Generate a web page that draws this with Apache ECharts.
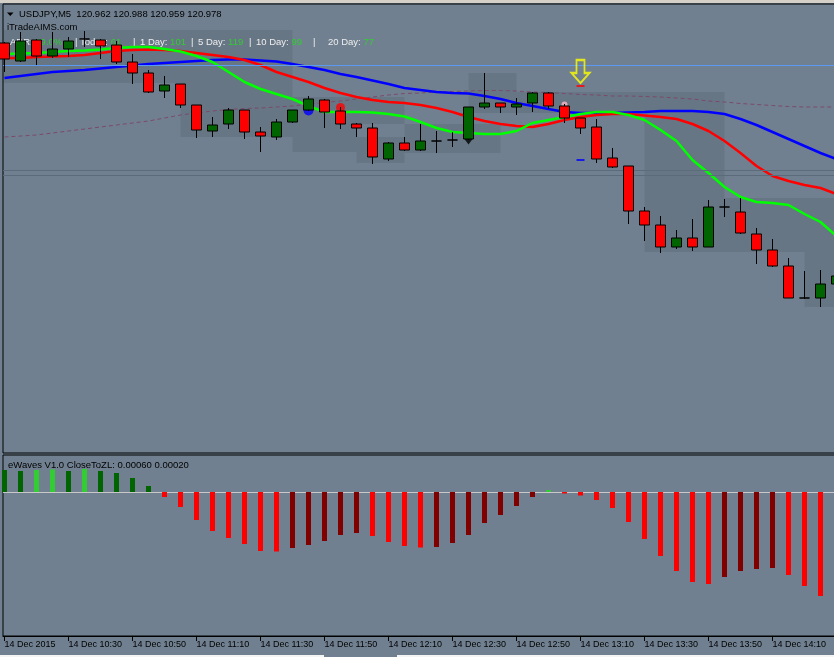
<!DOCTYPE html>
<html><head><meta charset="utf-8">
<script src="https://cdn.jsdelivr.net/npm/echarts@6/dist/echarts.min.js"></script>
<style>html,body{margin:0;padding:0;background:#708090;overflow:hidden}#c{width:834px;height:657px}</style>
</head><body><div id="c"></div>
<script>
// ---------- data ----------
const times = ['10:10','10:15','10:20','10:25','10:30','10:35','10:40','10:45','10:50','10:55',
 '11:00','11:05','11:10','11:15','11:20','11:25','11:30','11:35','11:40','11:45',
 '11:50','11:55','12:00','12:05','12:10','12:15','12:20','12:25','12:30','12:35',
 '12:40','12:45','12:50','12:55','13:00','13:05','13:10','13:15','13:20','13:25',
 '13:30','13:35','13:40','13:45','13:50','13:55','14:00','14:05','14:10','14:15',
 '14:20','14:25','14:30'];
const tickLabels = ['14 Dec 2015','14 Dec 10:30','14 Dec 10:50','14 Dec 11:10','14 Dec 11:30','14 Dec 11:50',
 '14 Dec 12:10','14 Dec 12:30','14 Dec 12:50','14 Dec 13:10','14 Dec 13:30','14 Dec 13:50','14 Dec 14:10'];
const tickEvery = 4;

const opens = [121.444,121.408,121.450,121.418,121.432,121.452,121.450,121.440,121.406,121.384,
 121.348,121.362,121.320,121.268,121.282,121.310,121.266,121.256,121.286,121.310,
 121.330,121.308,121.282,121.274,121.212,121.244,121.230,121.248,121.250,121.252,
 121.316,121.324,121.316,121.324,121.344,121.318,121.294,121.276,121.214,121.198,
 121.108,121.080,121.036,121.054,121.036,121.116,121.106,121.062,121.030,120.998,
 120.934,120.934,120.962];
const closes = [121.412,121.448,121.418,121.432,121.448,121.452,121.438,121.406,121.384,121.346,
 121.360,121.320,121.270,121.280,121.310,121.266,121.258,121.286,121.310,121.332,
 121.306,121.282,121.274,121.216,121.244,121.230,121.248,121.248,121.250,121.316,
 121.324,121.316,121.322,121.344,121.318,121.294,121.274,121.212,121.196,121.108,
 121.080,121.036,121.054,121.036,121.116,121.116,121.064,121.030,120.998,120.934,
 120.934,120.962,120.978];
const lows = [121.386,121.406,121.400,121.414,121.416,121.436,121.412,121.402,121.362,121.344,
 121.334,121.314,121.254,121.256,121.272,121.252,121.226,121.250,121.284,121.308,
 121.274,121.272,121.256,121.202,121.208,121.228,121.228,121.224,121.236,121.250,
 121.312,121.304,121.300,121.306,121.312,121.284,121.262,121.204,121.194,121.082,
 121.048,121.024,121.032,121.028,121.036,121.096,121.062,121.002,120.996,120.934,
 120.932,120.916,120.959];
const highs = [121.446,121.466,121.452,121.466,121.456,121.468,121.452,121.448,121.422,121.390,
 121.378,121.362,121.320,121.296,121.314,121.310,121.276,121.292,121.310,121.338,
 121.332,121.316,121.284,121.284,121.246,121.256,121.282,121.268,121.266,121.316,
 121.384,121.324,121.334,121.346,121.346,121.322,121.294,121.292,121.234,121.198,
 121.116,121.098,121.070,121.092,121.130,121.132,121.134,121.074,121.052,121.014,
 120.988,120.990,120.988];

const maBlue = [121.374,121.378,121.382,121.386,121.388,121.390,121.393,121.396,121.399,121.402,
 121.404,121.406,121.408,121.410,121.411,121.411,121.409,121.407,121.402,121.396,
 121.390,121.382,121.376,121.369,121.362,121.354,121.350,121.346,121.344,121.343,
 121.338,121.332,121.324,121.318,121.312,121.306,121.304,121.304,121.304,121.305,
 121.306,121.308,121.308,121.308,121.306,121.302,121.292,121.280,121.266,121.252,
 121.238,121.224,121.212];
const maRed = [121.414,121.414,121.416,121.417,121.418,121.420,121.424,121.428,121.430,121.431,
 121.430,121.428,121.424,121.420,121.416,121.410,121.400,121.386,121.376,121.366,
 121.354,121.344,121.336,121.330,121.326,121.324,121.320,121.314,121.306,121.296,
 121.288,121.282,121.278,121.276,121.282,121.290,121.296,121.300,121.302,121.302,
 121.299,121.296,121.292,121.282,121.268,121.248,121.224,121.198,121.178,121.168,
 121.160,121.154,121.142];
const maGreen = [121.422,121.423,121.424,121.426,121.428,121.429,121.431,121.434,121.436,121.436,
 121.432,121.427,121.418,121.406,121.386,121.366,121.352,121.342,121.332,121.318,
 121.306,121.306,121.306,121.305,121.302,121.297,121.286,121.274,121.266,121.264,
 121.262,121.262,121.268,121.284,121.290,121.296,121.302,121.306,121.306,121.300,
 121.290,121.270,121.248,121.210,121.184,121.156,121.136,121.126,121.124,121.120,
 121.102,121.086,121.058];
const maDashed = [121.256,121.258,121.260,121.264,121.268,121.272,121.276,121.280,121.284,121.288,
 121.294,121.300,121.304,121.308,121.311,121.313,121.314,121.316,121.318,121.322,
 121.325,121.328,121.332,121.336,121.340,121.343,121.344,121.346,121.347,121.348,
 121.349,121.349,121.348,121.346,121.345,121.343,121.341,121.340,121.338,121.338,
 121.337,121.336,121.334,121.332,121.328,121.326,121.323,121.321,121.319,121.317,
 121.316,121.316,121.316];

const levelLine = 121.402;
const grayLevels = [121.190, 121.176];

// range boxes: [fromIndex, toIndex, topPrice, bottomPrice]
const boxes = [
 [-1, 18, 121.470, 121.364],
 [11, 18, 121.364, 121.256],
 [18, 25, 121.336, 121.282],
 [18, 22, 121.282, 121.226],
 [22, 25, 121.256, 121.204],
 [25, 31, 121.282, 121.224],
 [29, 32, 121.384, 121.304],
 [32, 45, 121.346, 121.304],
 [40, 45, 121.304, 121.026],
 [45, 53, 121.134, 121.026],
 [50, 53, 121.026, 120.916]
];

// signal markers: [index, price]
const arrowMarks = [[36, 121.387]];
const redDashMarks = [[36, 121.358]];
const blueDashMarks = [[36, 121.210]];
const blueDots = [[19, 121.309]];
const redDots = [[21, 121.315]];
const pinkDots = [[35, 121.321]];
const blackTriangles = [[29, 121.247]];

const histValues = [0.022,0.021,0.022,0.0225,0.021,0.023,0.021,0.019,0.014,0.006,
 -0.005,-0.015,-0.028,-0.039,-0.046,-0.052,-0.059,-0.0595,-0.056,-0.053,
 -0.049,-0.043,-0.041,-0.044,-0.050,-0.054,-0.0555,-0.055,-0.051,-0.043,
 -0.031,-0.023,-0.014,-0.005,0.002,-0.0015,-0.0035,-0.008,-0.016,-0.030,
 -0.047,-0.064,-0.079,-0.090,-0.092,-0.085,-0.079,-0.077,-0.076,-0.083,
 -0.094,-0.104,-0.112];

const symbolName = 'USDJPY,M5';
const siteName = 'iTradeAIMS.com';
const adrNames = ['ADR: ', 'Today: ', '1 Day: ', '5 Day: ', '10 Day: ', '20 Day: '];
const adrValues = ['89.0%', '61', '101', '119', '99', '77'];
const indicatorTitle = 'eWaves V1.0 CloseToZL: 0.00060 0.00020';

// ---------- chart ----------
const last = closes.length - 1;
const headerText = symbolName + '  ' + [opens[last], highs[last], lows[last], closes[last]].map(v => v.toFixed(3)).join(' ');

const xMin = -0.09375, xMax = 52.90625;
const FONT = 'Liberation Sans';

const candleData = times.map((t, i) => [i, opens[i], closes[i], lows[i], highs[i]]);
const toXY = arr => arr.map((v, i) => [i, v]);

const chart = echarts.init(document.getElementById('c'), null, {renderer: 'canvas'});

const adrX = [10, 80, 140, 198, 256, 328];
const sepX = [75, 133, 191, 249, 313];
const graphics = [
  {type: 'rect', shape: {x: 0, y: 0, width: 834, height: 3}, style: {fill: '#d4d0c8'}, z: 50},
  {type: 'rect', shape: {x: 0, y: 655, width: 834, height: 2}, style: {fill: '#f4f4f4'}, z: 50},
  {type: 'rect', shape: {x: 324, y: 655, width: 73, height: 2}, style: {fill: '#708090'}, z: 51},
  {type: 'polygon', shape: {points: [[7, 12.5], [13.5, 12.5], [10.25, 16]]}, style: {fill: '#000'}, z: 50},
  {type: 'text', x: 19, y: 14, z: 50, style: {text: headerText, fill: '#000', fontSize: 9.5, fontFamily: FONT, verticalAlign: 'middle'}},
  {type: 'text', x: 7, y: 27, z: 50, style: {text: siteName, fill: '#000', fontSize: 9.5, fontFamily: FONT, verticalAlign: 'middle'}},
  {type: 'text', x: 8, y: 465, z: 50, style: {text: indicatorTitle, fill: '#000', fontSize: 9.5, fontFamily: FONT, verticalAlign: 'middle'}}
];
adrNames.forEach((n, k) => {
  graphics.push({type: 'text', x: adrX[k], y: 42, z: 2, style: {
    text: '{w|' + n + '}{g|' + adrValues[k] + '}', fontSize: 9.5, fontFamily: FONT, verticalAlign: 'middle',
    rich: {w: {fill: '#eeeeee', fontSize: 9.5, fontFamily: FONT}, g: {fill: '#33cc33', fontSize: 9.5, fontFamily: FONT}}
  }});
});
sepX.forEach(x => graphics.push({type: 'text', x: x, y: 42, z: 2, style: {text: '|', fill: '#eeeeee', fontSize: 9.5, fontFamily: FONT, verticalAlign: 'middle'}}));

const option = {
  animation: false,
  backgroundColor: '#708090',
  grid: [
    {left: 3, top: 4, width: 848, height: 449, outerBoundsMode: 'none', containLabel: false,
     show: true, borderColor: '#000', borderWidth: 1, backgroundColor: 'transparent'},
    {left: 3, top: 455, width: 848, height: 181, outerBoundsMode: 'none', containLabel: false,
     show: true, borderColor: '#000', borderWidth: 1, backgroundColor: 'transparent'}
  ],
  xAxis: [
    {gridIndex: 0, type: 'value', min: xMin, max: xMax, show: false, axisLine: {onZero: false}},
    {gridIndex: 1, type: 'value', min: xMin, max: xMax, position: 'bottom',
     axisLine: {show: true, onZero: false, lineStyle: {color: '#000', width: 1}},
     axisTick: {show: true, length: 5, lineStyle: {color: '#000'}, customValues: tickLabels.map((_, k) => k * tickEvery)},
     axisLabel: {show: true, customValues: tickLabels.map((_, k) => k * tickEvery), formatter: v => tickLabels[Math.round(v / tickEvery)],
       align: 'left', margin: 4, color: '#000', fontSize: 9, fontFamily: FONT},
     splitLine: {show: false}}
  ],
  yAxis: [
    {gridIndex: 0, type: 'value', min: 120.624, max: 121.522, show: false, splitLine: {show: false}},
    {gridIndex: 1, type: 'value', min: -0.144, max: 0.037, show: false, splitLine: {show: false}}
  ],
  graphic: graphics,
  series: [
    {type: 'custom', xAxisIndex: 0, yAxisIndex: 0, z: 1, clip: true, silent: true,
     data: boxes, encode: {x: [0, 1], y: [2, 3]},
     renderItem: (params, api) => {
       const p0 = api.coord([api.value(0), api.value(2)]);
       const p1 = api.coord([api.value(1), api.value(3)]);
       return {type: 'rect', shape: {x: p0[0], y: p0[1], width: p1[0] - p0[0], height: p1[1] - p0[1]},
               style: {fill: 'rgba(40,50,60,0.12)'}};
     }},
    {type: 'line', xAxisIndex: 0, yAxisIndex: 0, z: 3, data: toXY(maDashed), showSymbol: false, silent: true,
     lineStyle: {color: '#7b4a6a', width: 1, type: [4, 3]},
     markLine: {silent: true, symbol: ['none', 'none'], label: {show: false}, animation: false,
       data: [
         {yAxis: levelLine, lineStyle: {color: '#5a9af0', width: 1, type: 'solid'}},
         {yAxis: grayLevels[0], lineStyle: {color: '#5c6b7a', width: 1, type: 'solid'}},
         {yAxis: grayLevels[1], lineStyle: {color: '#5c6b7a', width: 1, type: 'solid'}}
       ]}},
    {type: 'line', xAxisIndex: 0, yAxisIndex: 0, z: 4, data: toXY(maBlue), showSymbol: false, silent: true, lineStyle: {color: '#0000ff', width: 2.5}},
    {type: 'line', xAxisIndex: 0, yAxisIndex: 0, z: 4, data: toXY(maRed), showSymbol: false, silent: true, lineStyle: {color: '#ff0000', width: 2.5}},
    {type: 'line', xAxisIndex: 0, yAxisIndex: 0, z: 4, data: toXY(maGreen), showSymbol: false, silent: true, lineStyle: {color: '#00ff00', width: 2.5}},
    {type: 'scatter', xAxisIndex: 0, yAxisIndex: 0, z: 5, data: blueDots, symbol: 'circle', symbolSize: 10, itemStyle: {color: '#0000ff'}},
    {type: 'scatter', xAxisIndex: 0, yAxisIndex: 0, z: 5, data: redDots, symbol: 'circle', symbolSize: 9, itemStyle: {color: '#ff0000'}},
    {type: 'scatter', xAxisIndex: 0, yAxisIndex: 0, z: 5, data: pinkDots, symbol: 'circle', symbolSize: 6, itemStyle: {color: '#ffb6c1'}},
    {type: 'scatter', xAxisIndex: 0, yAxisIndex: 0, z: 5, data: blackTriangles, symbol: 'triangle', symbolRotate: 180, symbolSize: [9, 6], itemStyle: {color: '#000'}},
    {type: 'scatter', xAxisIndex: 0, yAxisIndex: 0, z: 12, data: arrowMarks,
     symbol: 'path://M5,0L13,0L13,13L18,13L9,23L0,13L5,13Z', symbolSize: [18, 23],
     itemStyle: {color: 'rgba(0,0,0,0)', borderColor: '#ffff00', borderWidth: 2}},
    {type: 'scatter', xAxisIndex: 0, yAxisIndex: 0, z: 12, data: redDashMarks, symbol: 'rect', symbolSize: [8, 2], itemStyle: {color: '#ff0000'}},
    {type: 'scatter', xAxisIndex: 0, yAxisIndex: 0, z: 12, data: blueDashMarks, symbol: 'rect', symbolSize: [8, 2], itemStyle: {color: '#0000ff'}},
    {type: 'candlestick', xAxisIndex: 0, yAxisIndex: 0, z: 10, data: candleData, barWidth: 10, silent: true,
     itemStyle: {color: '#006400', color0: '#ff0000', borderColor: '#000', borderColor0: '#000', borderColorDoji: '#000', borderWidth: 1}},
    {type: 'bar', xAxisIndex: 1, yAxisIndex: 1, z: 5, data: toXY(histValues), barWidth: 5, silent: true,
     itemStyle: {color: p => {
       const i = p.dataIndex, v = histValues[i];
       const rising = i > 0 && v > histValues[i - 1];
       if (v >= 0) return rising ? '#32cd32' : '#006400';
       return rising ? '#800000' : '#ff0000';
     }},
     markLine: {silent: true, symbol: ['none', 'none'], label: {show: false}, animation: false,
       data: [{yAxis: 0}], lineStyle: {color: '#c8c8c8', width: 1, type: 'solid'}}}
  ]
};
chart.setOption(option);
</script>
</body></html>
